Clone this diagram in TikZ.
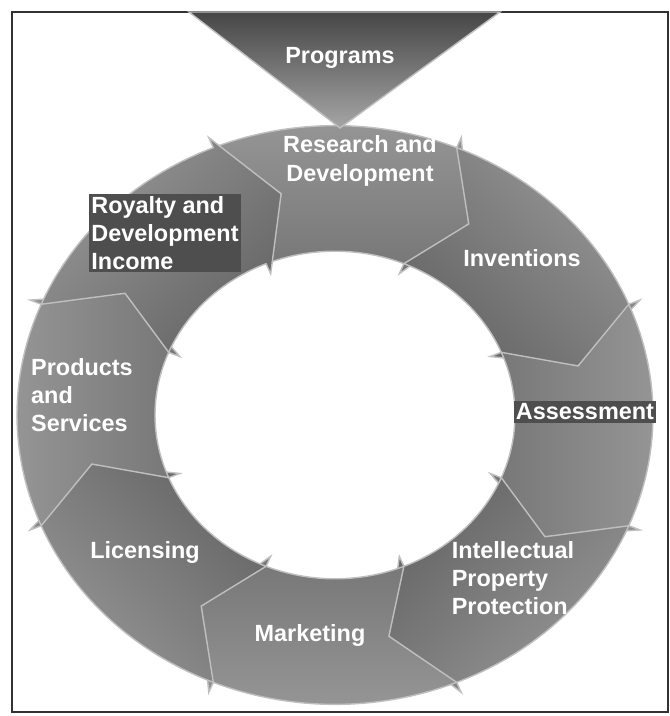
\documentclass[tikz,border=0pt]{standalone}
\usepackage{fontspec}
\newfontfamily\cyclefont{Liberation Sans}
\usepackage{tikz}
\usetikzlibrary{positioning}
\definecolor{ringdark}{RGB}{70,70,70}
\definecolor{ringlight}{RGB}{150,150,150}
\definecolor{labeldark}{RGB}{78,78,78}
\definecolor{framegray}{RGB}{50,50,50}

\tikzset{
  steplabel/.style={font=\cyclefont\bfseries\fontsize{20}{24}\selectfont, text=white, inner sep=0pt},
  labelbox/.style={fill=labeldark, inner sep=2pt},
  segment/.style={draw=white!75!black, line width=1.2pt},
}

\begin{document}
\begin{tikzpicture}[x=0.03cm, y=0.03cm]
    \useasboundingbox (-335,-301) rectangle (335,415);
    % Frame
    \draw[framegray, line width=1pt] (-323,-297) rectangle (333,403);
    % Ring of eight arrows, clockwise
    \begin{scope}[yscale=0.91]
    \foreach \c/\s in {90/0, 45/1, 0/2, -45/3, -90/4, -135/5, 180/6, 135/7} {
        \pgfmathsetmacro\ta{\c+22.5}
        \pgfmathsetmacro\ha{\c-22.5}
        \pgfmathtruncatemacro\lt{mod(\s,2)==0 ? 40 : 60}
        \shade[segment, left color=ringdark!\lt!ringlight, right color=ringlight, shading angle=\c+90]
            (\ta:318) arc[start angle=\ta, end angle=\ha, radius=318]
            -- (\ha:330) -- ({\ha-10}:249) -- (\ha:168) -- (\ha:180)
            arc[start angle=\ha, end angle=\ta, radius=180]
            -- ({\ta-10}:249) -- cycle;
    }
    \end{scope}
    % Programs feeding in from the top
    \shade[segment, top color=ringdark, bottom color=ringlight!85!white]
        (-146,403) -- (165,403) -- (5,287) -- cycle;
    % Labels
    \node[steplabel] (prog) at (5,357) {Programs};
    \node[steplabel, align=center] (rd) at (25,254) {Research and\\Development};
    \node[steplabel] (inv) at (187,157) {Inventions};
    \node[steplabel, labelbox] (assess) at (250,3) {Assessment};
    \node[steplabel, align=left] (ipp) at (178,-163) {Intellectual\\Property\\Protection};
    \node[steplabel] (mkt) at (-25,-220) {Marketing};
    \node[steplabel] (lic) at (-190,-137) {Licensing};
    \node[steplabel, align=left] (prod) at (-253,20) {Products\\and\\Services};
    \node[steplabel, labelbox, align=left] (roy) at (-170,182) {Royalty and\\Development\\Income};
\end{tikzpicture}
\end{document}
